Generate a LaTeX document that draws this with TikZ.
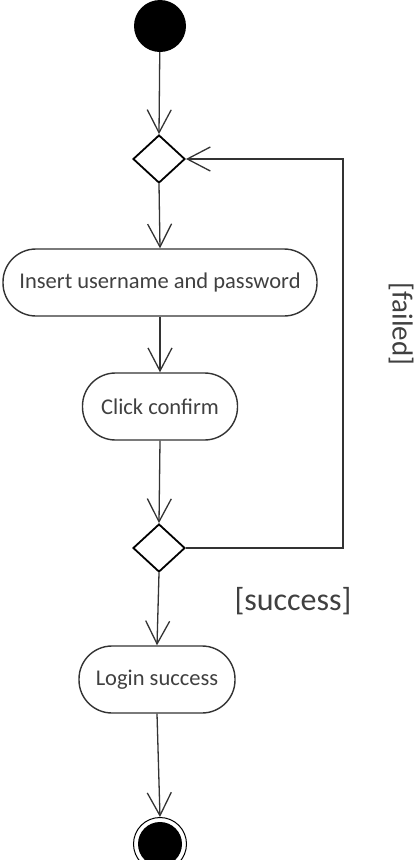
\documentclass[tikz,border=0pt]{standalone}
\usepackage{fontspec}
\setmainfont{Carlito}
\usetikzlibrary{shapes.geometric,arrows.meta}
\definecolor{txt}{HTML}{404040}
\definecolor{ln}{HTML}{333333}
\tikzset{
  act/.style={draw=ln, line width=1.4pt, rectangle, rounded corners=33pt, minimum height=67pt, inner sep=0pt, text=txt, font=\fontsize{22.5}{27}\selectfont},
  dec/.style={draw=black, line width=1.8pt, diamond, minimum width=52pt, minimum height=48pt, inner sep=0pt},
  flow/.style={draw=ln, line width=1.3pt, -{Straight Barb[length=23pt, width=24pt, line width=1.3pt]}},
  guard/.style={text=txt, inner sep=0pt}
}
\begin{document}
\begin{tikzpicture}[x=1pt, y=-1pt]
\useasboundingbox (0,0) rectangle (420,860);
\node[circle, fill=black, minimum size=52pt, inner sep=0pt] (start) at (160,26) {};
\node[dec] (d1) at (159,159) {};
\node[act, minimum width=314pt] (insert) at (160,282.5) {Insert username and password};
\node[act, minimum width=155pt] (click) at (160,406.5) {Click confirm};
\node[dec] (d2) at (159,548) {};
\node[act, minimum width=156pt] (login) at (157,679.5) {Login success};
\node[circle, draw=black, line width=1pt, minimum size=53pt, inner sep=0pt] (end) at (160,844) {};
\node[circle, fill=black, minimum size=44pt, inner sep=0pt] (endin) at (end.center) {};
\coordinate (c1) at (343,548);
\coordinate (c2) at (343,159);
\node[guard, font=\fontsize{32}{38}\selectfont] (succ) at (293,601) {[success]};
\node[guard, font=\fontsize{29}{34}\selectfont, rotate=-90] (fail) at (401,324) {[failed]};
\draw[flow] (start) -- (d1.north);
\draw[flow] (d1.south) -- (insert.north);
\draw[flow] (insert.south) -- (click.north);
\draw[flow] (click.south) -- (d2.north);
\draw[flow] (d2.south) -- (login.north);
\draw[flow] (login.south) -- (end.north);
\draw[flow] (d2.east) -- (c1) -- (c2) -- (d1.east);
\end{tikzpicture}
\end{document}
